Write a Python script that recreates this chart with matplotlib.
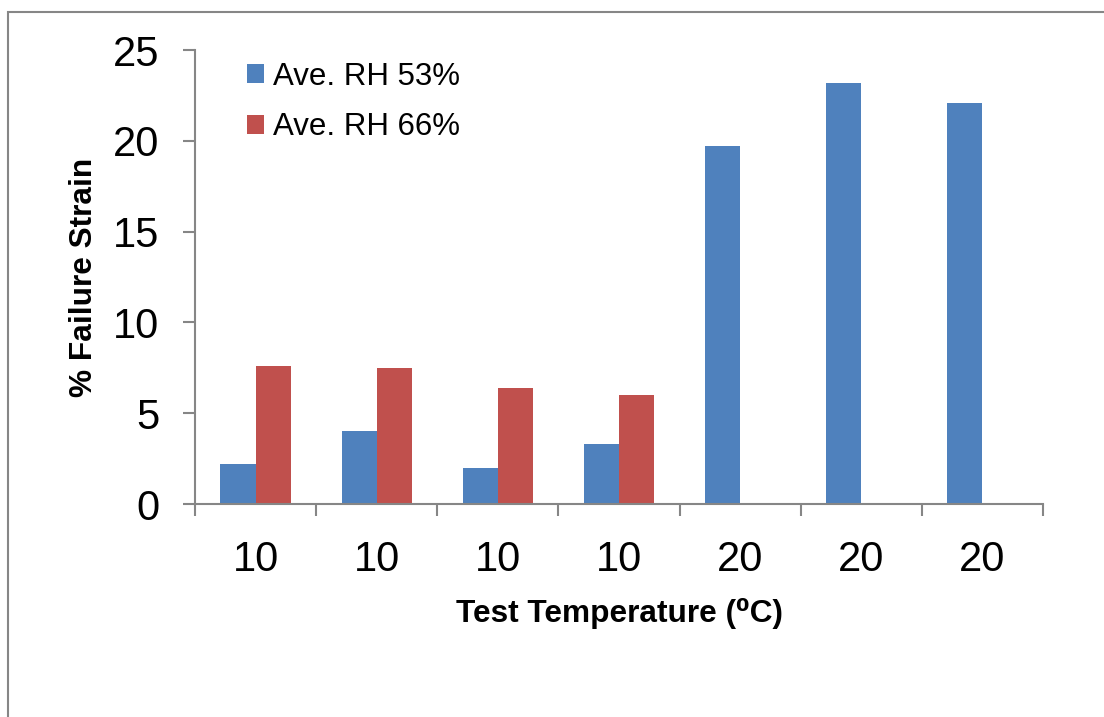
import matplotlib
matplotlib.use("Agg")
import matplotlib.pyplot as plt
from matplotlib.patches import Rectangle
import numpy as np

# Failure strain by test temperature, for two humidity levels
categories = ["10", "10", "10", "10", "20", "20", "20"]
rh53 = [2.2, 4.0, 2.0, 3.3, 19.7, 23.2, 22.1]
rh66 = [7.6, 7.5, 6.4, 6.0, 0.0, 0.0, 0.0]
series_labels = ["Ave. RH 53%", "Ave. RH 66%"]
y_ticks = [0, 5, 10, 15, 20, 25]

plt.rcParams["font.family"] = ["Liberation Sans", "DejaVu Sans"]

W, H = 1104, 717
fig = plt.figure(figsize=(W / 100, H / 100), dpi=100)
ax = fig.add_axes([195 / W, 1 - 504 / H, (1043 - 195) / W, (504 - 50) / H])

# outer chart frame
fig.patches.append(Rectangle((8 / W, -0.05), 1.2, 1 - 12 / H + 0.05,
                             transform=fig.transFigure, fill=False,
                             edgecolor="#868686", linewidth=1.5))

x = np.arange(len(categories))
bw = 0.29
ax.bar(x - bw / 2, rh53, width=bw, color="#4F81BD", label=series_labels[0])
ax.bar(x + bw / 2, rh66, width=bw, color="#C0504D", label=series_labels[1])

ax.set_xlim(-0.5, len(categories) - 0.5)
ax.set_ylim(0, 25)
ax.set_yticks(y_ticks)
ax.set_yticklabels([str(t) for t in y_ticks])

# category boundaries carry the tick marks, labels sit at the centres
ax.set_xticks(np.arange(-0.5, len(categories), 1.0))
ax.set_xticklabels([])
ax.set_xticks(x, minor=True)
ax.set_xticklabels(categories, minor=True)

axis_col = "#868686"
for side in ("top", "right"):
    ax.spines[side].set_visible(False)
for side in ("left", "bottom"):
    ax.spines[side].set_color(axis_col)
    ax.spines[side].set_linewidth(1.5)

ax.tick_params(axis="y", which="major", direction="out", length=8.6, width=1.5,
               color=axis_col, labelsize=30, pad=17)
ax.tick_params(axis="x", which="major", direction="out", length=8.6, width=1.5,
               color=axis_col)
ax.tick_params(axis="x", which="minor", length=0, labelsize=30, pad=26)

ax.set_xlabel("Test Temperature (\u2070C)", fontsize=22.8, fontweight="bold", labelpad=13)
ax.set_ylabel("% Failure Strain", fontsize=22.8, fontweight="bold", labelpad=10)

leg = ax.legend(loc="upper left", bbox_to_anchor=(0.035, 1.022), frameon=False,
                fontsize=22.5, handlelength=0.55, handleheight=0.55,
                handletextpad=0.3, labelspacing=0.65, borderaxespad=0.3)

fig.savefig("out.png", dpi=100, facecolor="white")
